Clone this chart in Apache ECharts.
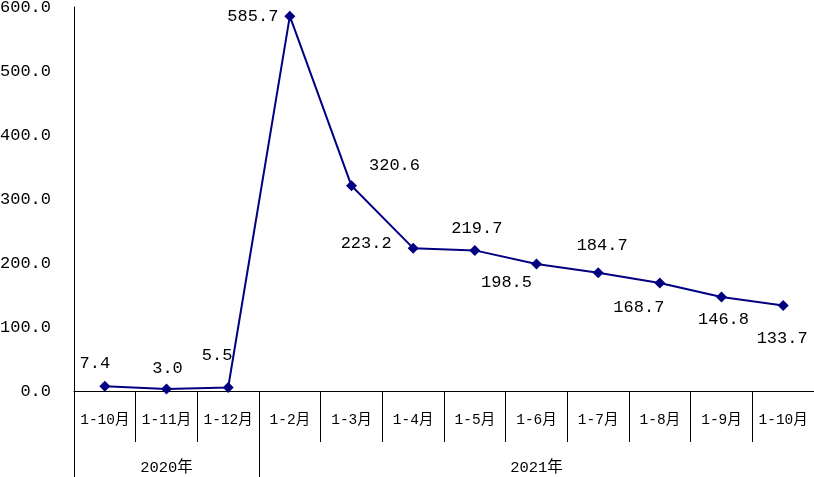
<!DOCTYPE html>
<html><head><meta charset="utf-8">
<script src="https://cdn.jsdelivr.net/npm/echarts@6/dist/echarts.min.js"></script>
<style>html,body{margin:0;padding:0;background:#fff}#c{width:814px;height:477px}</style>
</head><body><div id="c"></div>
<script>
const categories = ['1-10月','1-11月','1-12月','1-2月','1-3月','1-4月','1-5月','1-6月','1-7月','1-8月','1-9月','1-10月'];
const values = [7.4, 3.0, 5.5, 585.7, 320.6, 223.2, 219.7, 198.5, 184.7, 168.7, 146.8, 133.7];
const yearNames = ['2020年','2021年'];
const yearStarts = [0, 3];   // category index where each year group starts
const yearEnds = [3, 12];
const yTicks = [0, 100, 200, 300, 400, 500, 600];

// label placement (styling only)
const labelOffsets = [[-10,-23],[1,-21],[-11,-32],[-37,0],[43,-20],[-47,-5],[2,-22],[-30,19],[4,-27],[-21,24],[2,22],[-1,33]];

const numFont = '"Liberation Mono", "Noto Sans CJK SC", monospace';
const chart = echarts.init(document.getElementById('c'), null, {renderer:'canvas'});
const yearCenters = yearStarts.map((s,i)=> (s + yearEnds[i]) / 2);

chart.setOption({
  animation: false,
  grid: {left: 74, right: 0, top: 7, bottom: 86, containLabel: false, outerBoundsMode: 'none'},
  xAxis: [{
    type: 'category', data: categories, boundaryGap: true,
    axisLine: {show: true, lineStyle: {color: '#000', width: 1}},
    axisTick: {show: true, interval: 0, length: 51, lineStyle: {color: '#000', width: 1}},
    axisLabel: {interval: 0, margin: 22, color: '#000', fontSize: 14.5, fontFamily: numFont}
  }, {
    type: 'value', min: 0, max: categories.length, position: 'bottom', offset: 51,
    axisLine: {show: false},
    splitLine: {show: false},
    axisTick: {show: true, length: 35, customValues: yearStarts, lineStyle: {color: '#000', width: 1}},
    axisLabel: {show: true, margin: 18, color: '#000', fontSize: 15.5, fontFamily: numFont,
      customValues: yearCenters,
      formatter: v => { const i = yearCenters.indexOf(v); return i >= 0 ? yearNames[i] : ''; }}
  }],
  yAxis: {
    type: 'value', min: yTicks[0], max: yTicks[yTicks.length-1], interval: 100,
    axisLine: {show: true, lineStyle: {color: '#000', width: 1}},
    axisTick: {show: false},
    splitLine: {show: false},
    axisLabel: {margin: 23, color: '#000', fontSize: 17, fontFamily: numFont, formatter: v => v.toFixed(1)}
  },
  series: [{
    type: 'line', xAxisIndex: 0,
    data: values.map((v,i)=>({value: v, label: {offset: labelOffsets[i]}})),
    symbol: 'diamond', symbolSize: 11,
    lineStyle: {color: '#000080', width: 2},
    itemStyle: {color: '#000080'},
    label: {show: true, position: 'inside', color: '#000', fontSize: 17, fontFamily: numFont,
      formatter: p => p.value.toFixed(1)}
  }]
});
</script></body></html>
